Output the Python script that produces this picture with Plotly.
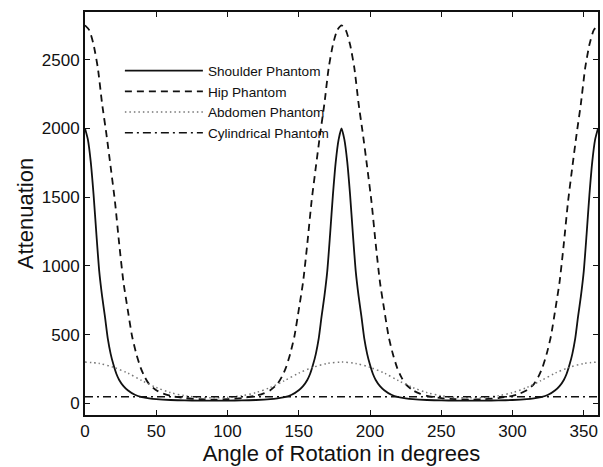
import plotly.graph_objects as go

# --- Data ---
shoulder_angle = [0, 2, 4, 6, 8, 10, 12, 14, 16, 18, 20, 22, 24, 27, 30, 35, 40, 45, 50, 60, 70, 80, 90,
                  100, 110, 120, 130, 135, 140, 145, 150, 153, 156, 158, 160, 162, 164, 166, 168, 170, 172, 174, 176, 178, 180,
                  182, 184, 186, 188, 190, 192, 194, 196, 198, 200, 202, 204, 207, 210, 215, 220, 225, 230, 240, 250, 260, 270,
                  280, 290, 300, 310, 315, 320, 325, 330, 333, 336, 338, 340, 342, 344, 346, 348, 350, 352, 354, 356, 358, 360]
shoulder_val = [2000, 1920, 1760, 1520, 1230, 960, 780, 630, 470, 360, 280, 215, 170, 125, 95, 62, 45, 36, 30, 24, 21, 20, 19,
                20, 21, 24, 30, 36, 45, 62, 95, 125, 170, 215, 280, 360, 470, 630, 780, 960, 1230, 1520, 1760, 1920, 2000,
                1920, 1760, 1520, 1230, 960, 780, 630, 470, 360, 280, 215, 170, 125, 95, 62, 45, 36, 30, 24, 21, 20, 19,
                20, 21, 24, 30, 36, 45, 62, 95, 125, 170, 215, 280, 360, 470, 630, 780, 960, 1230, 1520, 1760, 1920, 2000]

hip_angle = [0, 3, 6, 9, 12, 15, 18, 21, 24, 27, 30, 33, 36, 39, 42, 45, 50, 55, 60, 70, 80, 90,
             100, 110, 120, 125, 130, 135, 138, 141, 144, 147, 150, 153, 156, 159, 162, 165, 168, 171, 174, 177, 180,
             183, 186, 189, 192, 195, 198, 201, 204, 207, 210, 213, 216, 219, 222, 225, 230, 235, 240, 250, 260, 270,
             280, 290, 300, 305, 310, 315, 318, 321, 324, 327, 330, 333, 336, 339, 342, 345, 348, 351, 354, 357, 360]
hip_val = [2750, 2715, 2610, 2440, 2180, 1960, 1720, 1470, 1160, 880, 680, 490, 360, 260, 190, 140, 95, 70, 55, 38, 30, 27,
           30, 38, 55, 70, 95, 140, 190, 260, 360, 490, 680, 880, 1160, 1470, 1720, 1960, 2180, 2440, 2610, 2715, 2750,
           2715, 2610, 2440, 2180, 1960, 1720, 1470, 1160, 880, 680, 490, 360, 260, 190, 140, 95, 70, 55, 38, 30, 27,
           30, 38, 55, 70, 95, 140, 190, 260, 360, 490, 680, 880, 1160, 1470, 1720, 1960, 2180, 2440, 2610, 2715, 2750]

abdomen_angle = [0, 10, 20, 30, 40, 50, 60, 70, 80, 90, 100, 110, 120, 130, 140, 150, 160, 170, 180,
                 190, 200, 210, 220, 230, 240, 250, 260, 270, 280, 290, 300, 310, 320, 330, 340, 350, 360]
abdomen_val = [300, 290, 262, 220, 165, 115, 78, 55, 43, 40, 43, 55, 78, 115, 165, 220, 262, 290, 300,
               290, 262, 220, 165, 115, 78, 55, 43, 40, 43, 55, 78, 115, 165, 220, 262, 290, 300]

cyl_angle = [0, 90, 180, 270, 360]
cyl_val = [48, 48, 48, 48, 48]

x_ticks = [0, 50, 100, 150, 200, 250, 300, 350]
y_ticks = [0, 500, 1000, 1500, 2000, 2500]

series_names = ["Shoulder Phantom", "Hip Phantom", "Abdomen Phantom", "Cylindrical Phantom"]

FONT = "Liberation Sans, Arial, Helvetica, sans-serif"
INK = "#111111"

# --- Figure ---
fig = go.Figure()
fig.add_trace(go.Scatter(x=shoulder_angle, y=shoulder_val, mode="lines", name=series_names[0],
                         line=dict(color=INK, width=1.8, shape="spline", smoothing=0.6)))
fig.add_trace(go.Scatter(x=hip_angle, y=hip_val, mode="lines", name=series_names[1],
                         line=dict(color=INK, width=1.8, dash="7px,5px", shape="spline", smoothing=0.6)))
fig.add_trace(go.Scatter(x=abdomen_angle, y=abdomen_val, mode="lines", name=series_names[2],
                         line=dict(color="#777777", width=1.5, dash="1.5px,3px", shape="spline", smoothing=0.8)))
fig.add_trace(go.Scatter(x=cyl_angle, y=cyl_val, mode="lines", name=series_names[3],
                         line=dict(color=INK, width=1.6, dash="8px,4px,2px,4px")))

axis_common = dict(showline=True, linecolor=INK, linewidth=2, mirror="ticks",
                   ticks="inside", ticklen=5, tickwidth=1.3, tickcolor=INK,
                   showgrid=False, zeroline=False,
                   tickfont=dict(family=FONT, size=17, color=INK))

fig.update_layout(
    width=603, height=467,
    margin=dict(l=85, r=3, t=12, b=52),
    paper_bgcolor="white", plot_bgcolor="white",
    xaxis=dict(range=[0, 360], tickvals=x_ticks, ticktext=[str(v) for v in x_ticks],
               title=dict(text="Angle of Rotation in degrees", standoff=2,
                          font=dict(family=FONT, size=22, color=INK)),
               **axis_common),
    yaxis=dict(range=[-85, 2847], tickvals=y_ticks, ticktext=[str(v) for v in y_ticks],
               title=dict(text="Attenuation", standoff=2,
                          font=dict(family=FONT, size=22, color=INK)),
               **axis_common),
    legend=dict(x=0.068, y=0.8925, xanchor="left", yanchor="top", bgcolor="rgba(0,0,0,0)",
                itemwidth=78, tracegroupgap=0,
                font=dict(family=FONT, size=13.6, color=INK)),
    showlegend=True,
)

fig.write_html("out.html", config={"displayModeBar": False},
               post_script="document.body.style.margin='0';document.body.style.padding='0';")
